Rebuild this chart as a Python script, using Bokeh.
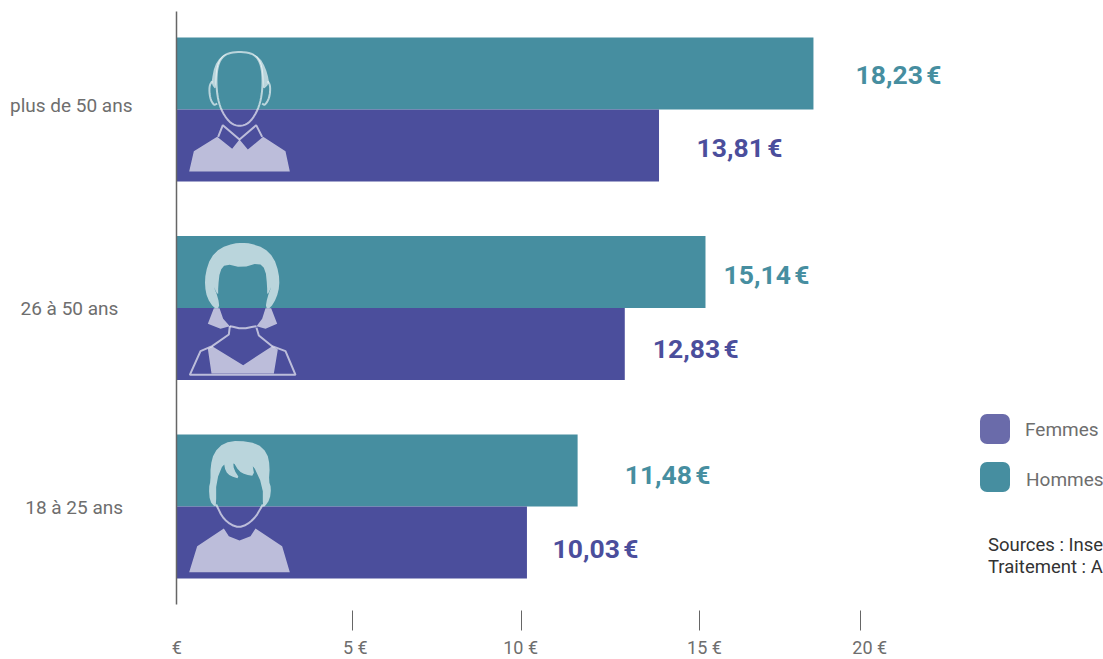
from bokeh.plotting import figure
from bokeh.models import Range1d, LinearAxis, FixedTicker, Label
from bokeh.embed import file_html
from bokeh.resources import INLINE

categories = ["18 à 25 ans\u00a0\u00a0", "26 à 50 ans\u00a0\u00a0\u00a0", "plus de 50 ans"]
category_ticks = [-0.005, 0.9975, 2.02]
femmes = [10.03, 12.83, 13.81]
hommes = [11.48, 15.14, 18.23]
femmes_labels = ["10,03\u202f€", "12,83\u202f€", "13,81\u202f€"]
hommes_labels = ["11,48\u202f€", "15,14\u202f€", "18,23\u202f€"]
tick_values = [5.04, 9.88, 14.97, 19.57]
tick_texts = ["€", "5 €", "10 €", "15 €", "20 €"]
tick_text_values = [0.01, 5.12, 9.85, 15.11, 19.84]

TEAL = "#468EA0"
PURPLE = "#4B4E9C"
LEG_PURPLE = "#6A6BAA"
GREY = "#6E6E6E"
FONT = "Roboto"
W, H = 1103, 659

PX_PER_EUR = 34.94
PX_PER_GROUP = 198.5
def dx(px): return (px - 176) / PX_PER_EUR
def dy(py): return (507 - py) / PX_PER_GROUP

# The frame fills the page and the axes are fixed inside it, so no text is clipped by the frame.
p = figure(width=W, height=H, output_backend="svg", toolbar_location=None,
           x_range=Range1d(dx(0), dx(1103)), y_range=Range1d(dy(660), dy(1)),
           x_axis_type=None, y_axis_type=None,
           min_border_left=0, min_border_right=0, min_border_top=0,
           min_border_bottom=0, outline_line_color=None)
p.grid.visible = False

tick_axis = LinearAxis(ticker=FixedTicker(ticks=tick_values), fixed_location=dy(611),
                       major_label_overrides={v: "" for v in tick_values},
                       axis_line_color=None, major_tick_in=0, major_tick_out=20,
                       major_tick_line_color="#666666", major_tick_line_width=1,
                       major_label_text_font_size="0px", major_label_standoff=0,
                       minor_tick_line_color=None)
p.add_layout(tick_axis, "below")
label_axis = LinearAxis(ticker=FixedTicker(ticks=tick_text_values), fixed_location=dy(631),
                        major_label_overrides=dict(zip(tick_text_values, tick_texts)),
                        axis_line_color=None, major_tick_line_color=None, minor_tick_line_color=None,
                        major_tick_in=0, major_tick_out=0, major_label_standoff=6,
                        major_label_text_font=FONT, major_label_text_font_size="18px",
                        major_label_text_color=GREY)
p.add_layout(label_axis, "below")
yaxis = LinearAxis(ticker=FixedTicker(ticks=category_ticks), fixed_location=0, bounds=(dy(605), dy(12)),
                   major_label_overrides=dict(zip(category_ticks, categories)),
                   axis_line_color="#666666", axis_line_width=1.5,
                   major_tick_line_color=None, minor_tick_line_color=None,
                   major_tick_in=0, major_tick_out=0, major_label_standoff=44,
                   major_label_text_font=FONT, major_label_text_font_size="19px",
                   major_label_text_color=GREY)
p.add_layout(yaxis, "left")

# bars
BAR = 72 / PX_PER_GROUP
pos = [0, 1, 2]
p.hbar(y=[g + BAR / 2 for g in pos], right=hommes, left=0, height=BAR, color=TEAL, line_color=None)
p.hbar(y=[g - BAR / 2 for g in pos], right=femmes, left=0, height=BAR, color=PURPLE, line_color=None)

# value labels
font_bold = dict(text_font=FONT, text_font_style="bold", text_font_size="26.5px",
                 text_align="center", text_baseline="middle")
for g, v, t, ox, oy in zip(pos, hommes, hommes_labels, [90, 61, 85], [-4, -2, -1]):
    p.add_layout(Label(x=v, y=g + BAR / 2, text=t, x_offset=ox, y_offset=oy, text_color=TEAL, **font_bold))
for g, v, t, ox, oy in zip(pos, femmes, femmes_labels, [68.5, 71, 80.5], [-6, -4, -2]):
    p.add_layout(Label(x=v, y=g - BAR / 2, text=t, x_offset=ox, y_offset=oy, text_color=PURPLE, **font_bold))

# legend
p.rect(x=[dx(994.5), dx(994.5)], y=[dy(429.5), dy(477.5)], width=30, height=30,
       width_units="screen", height_units="screen", border_radius=7,
       fill_color=[LEG_PURPLE, TEAL], line_color=None)
leg = dict(text_font=FONT, text_font_size="19px", text_color=GREY,
           text_baseline="middle", text_align="left")
p.add_layout(Label(x=dx(1024.5), y=dy(430), text="Femmes", **leg))
p.add_layout(Label(x=dx(1025.5), y=dy(480), text="Hommes", **leg))
src_kw = dict(leg, text_color="#333333", text_font_size="18.5px")
p.add_layout(Label(x=dx(987.5), y=dy(545), text="Sources : Inse", **src_kw))
p.add_layout(Label(x=dx(987.5), y=dy(567), text="Traitement : A", **src_kw))

# silhouettes, traced on the picture
def chaikin(pts, closed=False, n=2):
    for _ in range(n):
        out = [] if closed else [pts[0]]
        m = len(pts)
        for i in range(m if closed else m - 1):
            a, b = pts[i], pts[(i + 1) % m]
            out.append((.75 * a[0] + .25 * b[0], .75 * a[1] + .25 * b[1]))
            out.append((.25 * a[0] + .75 * b[0], .25 * a[1] + .75 * b[1]))
        if not closed:
            out.append(pts[-1])
        pts = out
    return pts

def conv(pts, oy):
    return [dx(170 + a / 3) for a, _ in pts], [dy(oy + b / 3) for _, b in pts]

def fill(pts, oy, smooth=0):
    if smooth:
        pts = chaikin(pts, True, smooth)
    xs, ys = conv(pts, oy)
    p.patch(xs, ys, fill_color="white", fill_alpha=0.63, line_color=None)

def stroke(pts, oy, smooth=0, closed=False):
    if smooth:
        pts = chaikin(pts, closed, smooth)
    if closed:
        pts = pts + [pts[0]]
    xs, ys = conv(pts, oy)
    p.line(xs, ys, line_color="white", line_alpha=0.63, line_width=2)

# man
o = 30
stroke([(207,67),(240,70),(262,85),(274,115),(277,160),(272,210),(258,250),(235,282),(207,291),
        (180,282),(156,250),(142,210),(137,160),(140,115),(152,85),(175,70)], o, 2, True)
fill([(175,70),(150,82),(132,110),(124,150),(124,165),(135,180),(137,160),(140,115),(152,85)], o, 1)
fill([(240,70),(268,85),(285,115),(295,150),(294,165),(278,180),(277,160),(274,115),(262,85)], o, 1)
stroke([(125,155),(116,170),(118,205),(130,228),(140,222)], o, 2)
stroke([(292,155),(300,170),(297,205),(283,228),(275,222)], o, 2)
fill([(56,426),(70,365),(140,322),(185,358),(207,330),(232,360),(278,322),(345,365),(358,426)], o)
stroke([(143,322),(157,287),(207,330),(257,287),(275,322)], o)

# woman
o = 230
fill([(215,40),(190,42),(150,55),(120,85),(105,130),(103,170),(110,205),(130,236),(147,236),
      (143,205),(127,165),(143,200),(143,170),(148,125),(165,103),(215,115),
      (265,100),(285,120),(290,170),(290,200),(305,165),(290,205),(285,236),(300,236),
      (318,205),(327,170),(325,130),(310,85),(280,55),(240,42)], o, 1)
fill([(130,236),(147,236),(158,268),(178,290),(150,298),(112,283)], o)
fill([(285,236),(302,236),(320,283),(285,298),(258,290),(275,268)], o)
stroke([(178,290),(215,298),(258,290)], o, 1)
stroke([(178,290),(175,315),(125,350),(90,365),(58,436),(375,436),(345,365),(305,350),(265,318),(258,295)], o)
fill([(112,358),(125,350),(218,407),(305,350),(322,360),(310,432),(123,432)], o)

# young man
o = 430
fill([(205,33),(160,40),(130,70),(120,110),(120,155),(115,175),(118,215),(133,232),(137,225),(137,155),
      (160,98),(165,125),(180,140),(208,148),(190,120),(188,96),(205,125),(225,135),(252,140),(245,100),
      (277,170),(277,232),(282,232),(298,210),(302,175),(295,155),(298,110),(290,70),(260,42)], o, 1)
stroke([(137,225),(160,272),(205,298),(250,272),(277,225)], o, 2)
fill([(56,428),(80,350),(160,297),(175,320),(207,333),(240,320),(255,297),(335,350),(358,428)], o, 0)

open("out.html", "w").write(file_html(p, INLINE))
